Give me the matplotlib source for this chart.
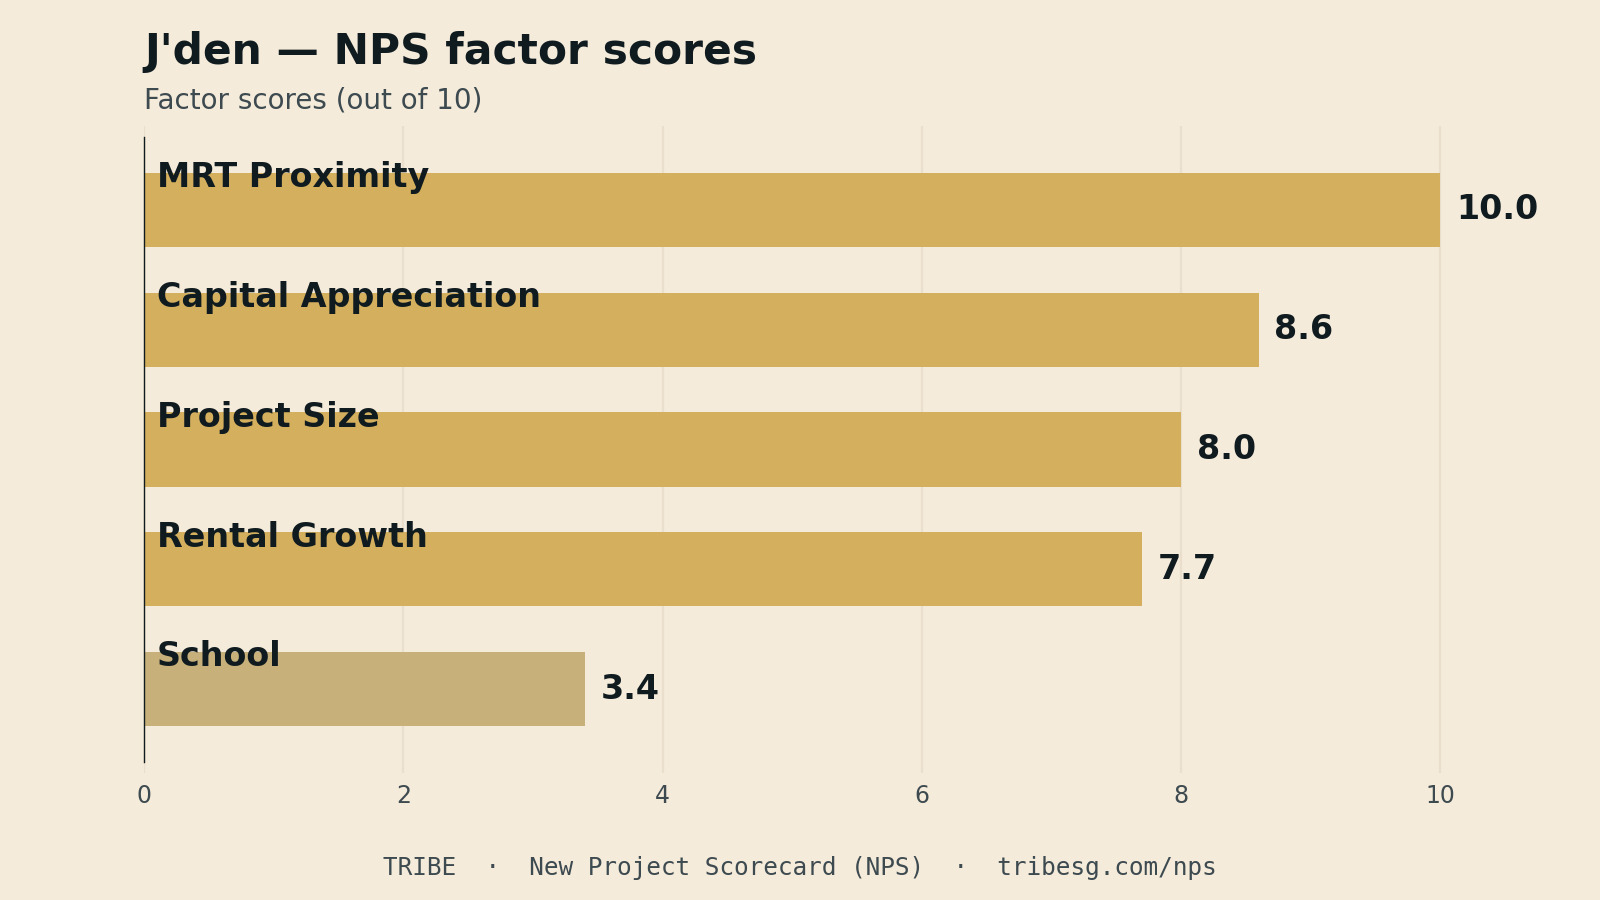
import matplotlib
matplotlib.use("Agg")
import matplotlib.pyplot as plt

categories = ["MRT Proximity", "Capital Appreciation", "Project Size", "Rental Growth", "School"]
scores = [10.0, 8.6, 8.0, 7.7, 3.4]
bar_colors = ["#D4AF5E", "#D4AF5E", "#D4AF5E", "#D4AF5E", "#C8B07A"]
xticks = [0, 2, 4, 6, 8, 10]

BG = "#F5EBDA"
DARK = "#101B20"
GREY = "#3D4A50"
GRID = "#EADFCC"

fig = plt.figure(figsize=(16, 9), dpi=100, facecolor=BG)
ax = fig.add_axes([144/1600, 1 - 773/900, (1570-144)/1600, (773-126)/900])
ax.set_facecolor(BG)

ypos = list(range(len(categories)))
ax.barh(ypos, scores, height=0.62, color=bar_colors, zorder=2)
ax.set_xlim(0, 11)
ax.set_ylim(4.7, -0.7)

for y, name, val in zip(ypos, categories, scores):
    ax.text(0.1, y - 0.19, name, fontsize=24, fontweight="bold", color=DARK,
            va="baseline", ha="left", zorder=3)
    ax.text(val + 0.12, y, f"{val:.1f}", fontsize=24, fontweight="bold", color=DARK,
            va="center", ha="left", zorder=3)

ax.set_xticks(xticks)
ax.set_xticklabels([str(t) for t in xticks])
ax.tick_params(axis="x", length=0, pad=8, labelsize=17, labelcolor=GREY)
ax.set_yticks([])
ax.grid(axis="x", color=GRID, linewidth=1.6, zorder=0)
for s in ["top", "right", "bottom"]:
    ax.spines[s].set_visible(False)
ax.spines["left"].set_color(DARK)
ax.spines["left"].set_linewidth(1.0)
ax.spines["left"].set_bounds(-0.61, 4.61)

fig.text(144/1600, 1 - 52/900, "J'den — NPS factor scores", fontsize=30.5, fontweight="bold",
         color=DARK, va="center", ha="left")
fig.text(144/1600, 1 - 100/900, "Factor scores (out of 10)", fontsize=20,
         color=GREY, va="center", ha="left")
fig.text(0.5, 1 - 868/900, "TRIBE  ·  New Project Scorecard (NPS)  ·  tribesg.com/nps",
         fontsize=17.6, family="DejaVu Sans Mono", color=GREY, va="center", ha="center")

fig.savefig("out.png", dpi=100, facecolor=BG)
